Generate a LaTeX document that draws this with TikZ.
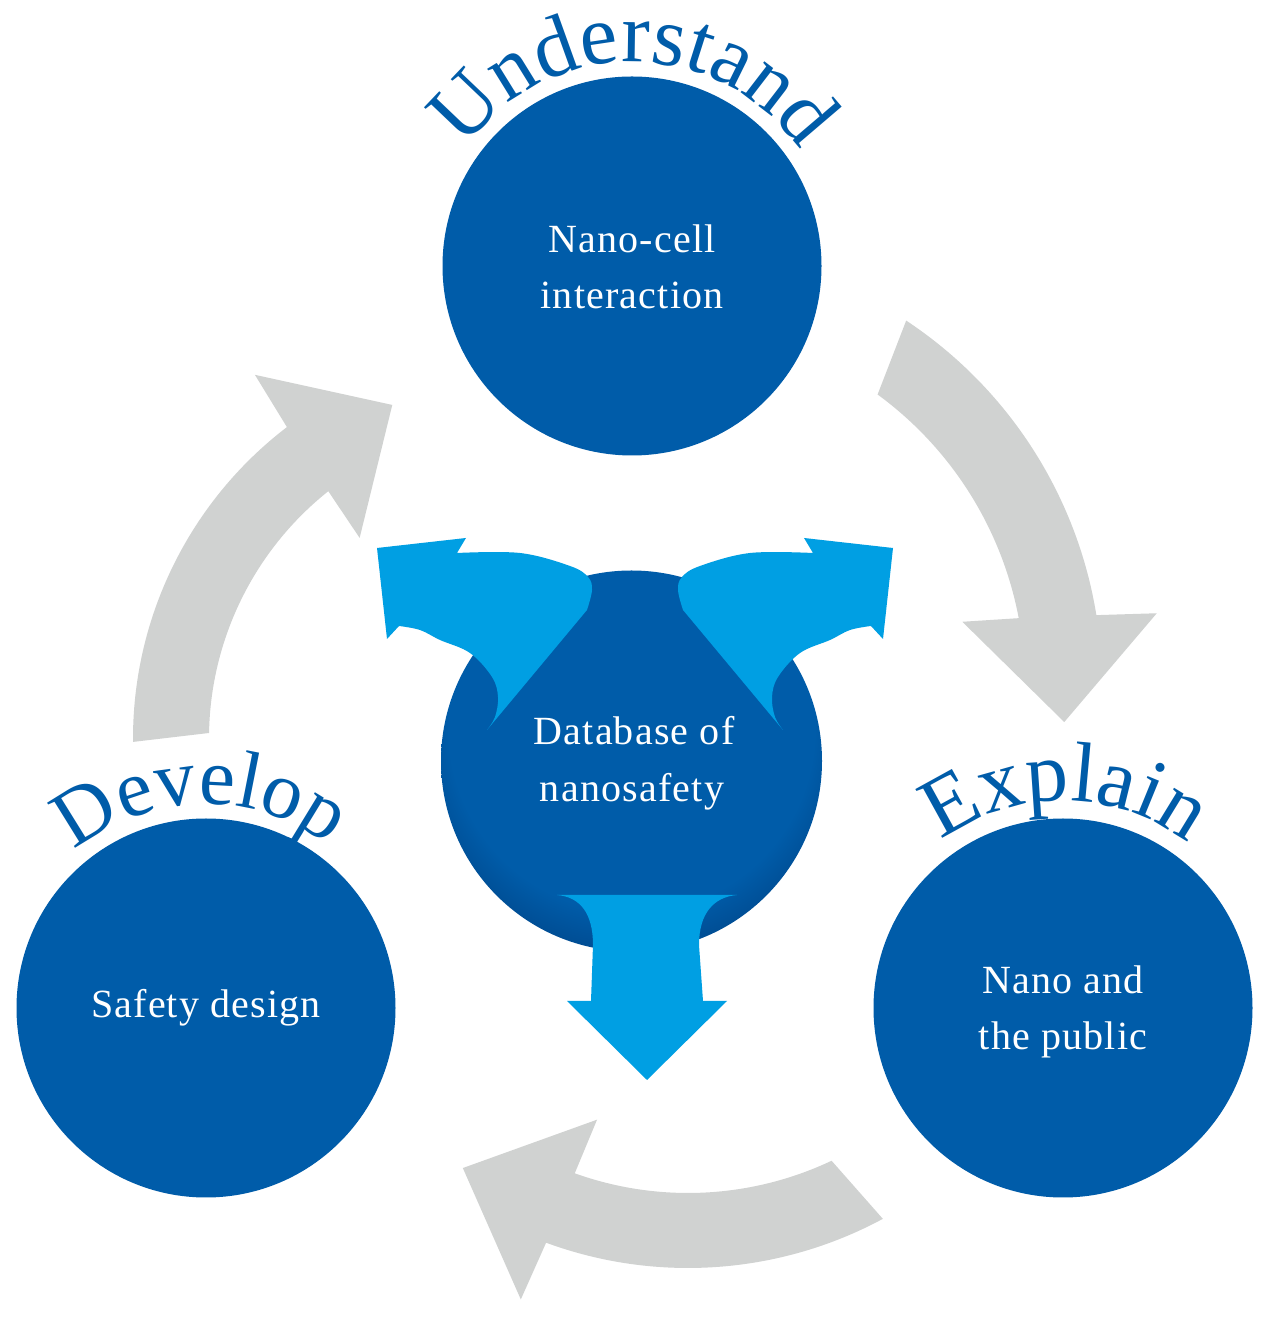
\documentclass[tikz,border=0pt]{standalone}
\usepackage{fontspec}
\setmainfont{Liberation Serif}
\newfontfamily\labfont[LetterSpace=3]{Liberation Serif}
\usetikzlibrary{decorations.text}
\definecolor{mblue}{HTML}{005CA9}
\definecolor{dblue}{HTML}{003E7E}
\definecolor{lblue}{HTML}{009FE3}
\definecolor{agray}{HTML}{D0D2D1}
\pgfdeclareradialshading{ballshade}{\pgfpoint{0bp}{8bp}}{color(0bp)=(mblue); color(24bp)=(mblue); color(33bp)=(dblue); color(50bp)=(dblue)}
\newcommand\blArrowPath{(377,772) -- (466,782) -- (457,767)
  -- plot[smooth, tension=0.6] coordinates {(457,767) (520,767) (570,754) (588,743) (592,730) (587,710)}
  -- (487,590)
  -- plot[smooth, tension=0.6] coordinates {(487,590) (495,603) (498,623) (492,643) (470,667) (440,680) (420,690) (399,694)}
  -- (387,681) -- cycle}
\tikzset{
  bigcirc/.style={circle, fill=mblue, inner sep=0pt, minimum size=379pt},
  lab/.style={font=\labfont\fontsize{40}{40}\selectfont, text=white, inner sep=0pt, anchor=base},
  grayarrow/.style={fill=agray},
  bluearrow/.style={fill=lblue},
}
\begin{document}
\begin{tikzpicture}[x=1pt, y=1pt]
\useasboundingbox (0,0) rectangle (1271,1320);
\fill[white] (0,0) rectangle (1271,1320);

% gray cycle arrows
\begin{scope}[shift={(665,635)}]
\fill[grayarrow] (56.5:437pt) arc[start angle=56.5, end angle=9.2, radius=437pt] -- (8.3:497pt) -- (-5.3:401pt) -- (12:304pt) -- (10.7:360pt) arc[start angle=10.7, end angle=53.8, radius=360pt] -- cycle;
\end{scope}
\begin{scope}[shift={(688,463)}]
\fill[grayarrow] (-61.7:411pt) arc[start angle=-61.7, end angle=-110.2, radius=411pt] -- (-110.7:473pt) -- (-125.9:384pt) -- (-109.1:278pt) -- (-109.7:336pt) arc[start angle=-109.7, end angle=-64.7, radius=336pt] -- cycle;
\end{scope}
\begin{scope}[shift={(525,581.5)}]
\fill[grayarrow] (180.5:392pt) arc[start angle=180.5, end angle=127.4, radius=392pt] -- (126.6:453pt) -- (111.7:359pt) -- (129.5:260pt) -- (128.5:316pt) arc[start angle=128.5, end angle=179, radius=316pt] -- cycle;
\end{scope}

% outer circles
\node[bigcirc] (top) at (632,1054) {};
\node[bigcirc] (left) at (206,312) {};
\node[bigcirc] (right) at (1063,312) {};

% center circle
\node[circle, inner sep=0pt, minimum size=381pt, shade, shading=ballshade] (db) at (631.5,559) {};

% blue arrows
\fill[bluearrow] \blArrowPath;
\begin{scope}[xshift=1270pt, xscale=-1]
\fill[bluearrow] \blArrowPath;
\end{scope}
\fill[bluearrow] (557,425) -- (737,425) .. controls (714,423) and (699,407) .. (699,375) -- (703,319) -- (727,319) -- (647,240) -- (567,319) -- (591,319) -- (593,375) .. controls (593,407) and (580,423) .. (557,425) -- cycle;

% labels
\node[lab] (t1) at (632,1067) {Nano-cell};
\node[lab] (t2) at (632,1011) {interaction};
\node[lab] (c1) at (634,575) {Database of};
\node[lab] (c2) at (632,518) {nanosafety};
\node[lab] (l1) at (206,302) {Safety design};
\node[lab] (r1) at (1063,326) {Nano and};
\node[lab] (r2) at (1063,270) {the public};

% curved headings
\begin{scope}[shift={(632,1054)}]
\path[decorate, decoration={text along path, text={|\fontsize{85}{85}\selectfont|Understand}, text align={fit to path}, text color=mblue}] (145:204pt) arc[start angle=145, end angle=34.5, radius=204pt];
\end{scope}
\begin{scope}[shift={(206,312)}]
\path[decorate, decoration={text along path, text={|\fontsize{81}{81}\selectfont|Develop}, text align={fit to path}, text color=mblue}] (130:204pt) arc[start angle=130, end angle=53.6, radius=204pt];
\end{scope}
\begin{scope}[shift={(1063,312)}]
\path[decorate, decoration={text along path, text={|\fontsize{85}{85}\selectfont|Explain}, text align={fit to path}, text color=mblue}] (126:207pt) arc[start angle=126, end angle=52.7, radius=207pt];
\end{scope}
\end{tikzpicture}
\end{document}
